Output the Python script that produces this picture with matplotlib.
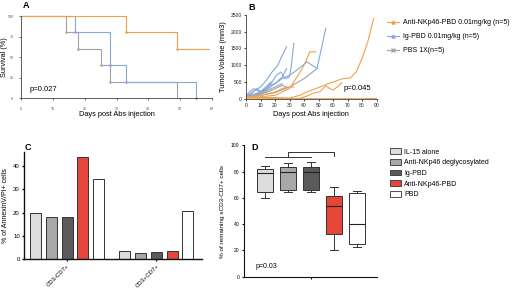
import matplotlib
matplotlib.use('Agg')
from matplotlib import pyplot as plt
from matplotlib.lines import Line2D
from matplotlib.patches import Patch

plt.rcParams['font.family'] = ['Liberation Sans', 'DejaVu Sans']

W, H = 520, 292

# ---- panel A: survival (days, % survival) ----
surv_nkp46_days = [0, 33, 49, 59]
surv_nkp46_pct = [100, 80, 60, 60]
surv_ig_days = [0, 17, 28, 33, 55, 55]
surv_ig_pct = [100, 80, 40, 20, 0, 0]
surv_pbs_days = [0, 14, 18, 25, 28, 49]
surv_pbs_pct = [100, 80, 60, 40, 20, 0]

# ---- panel B: tumor volume per mouse (days, mm3) ----
tum_nkp46 = [
    ([0, 10, 20, 30, 37, 42, 48, 54, 60, 67, 72, 76, 80, 84, 88],
     [50, 40, 30, 20, 100, 200, 300, 400, 500, 600, 620, 800, 1200, 1700, 2400]),
    ([0, 10, 20, 30, 37, 42, 46, 51, 55, 58, 60, 63, 66],
     [30, 20, 10, 0, 10, 80, 160, 210, 380, 300, 260, 350, 480]),
    ([0, 10, 20, 25, 30, 36, 40, 44, 48],
     [50, 60, 100, 200, 310, 700, 1000, 1400, 1400]),
    ([0, 10, 20, 25, 28, 33],
     [50, 100, 200, 300, 340, 350]),
    ([0, 20, 40, 60, 80, 90],
     [20, 10, 0, 0, 0, 10]),
]
tum_ig = [
    ([0, 3, 6, 10, 14, 18, 22, 25, 28],
     [100, 150, 250, 350, 550, 800, 1000, 1300, 1550]),
    ([0, 4, 7, 11, 14, 18, 21, 24, 27, 30, 31, 33],
     [50, 150, 300, 200, 300, 500, 700, 800, 600, 650, 900, 1650]),
    ([0, 5, 10, 15, 20, 25, 30, 35, 42, 49, 55],
     [50, 100, 150, 300, 450, 600, 700, 850, 1100, 900, 2100]),
    ([0, 5, 10, 14, 17],
     [100, 300, 200, 350, 500]),
    ([0, 5, 10, 15, 20, 25, 28],
     [50, 100, 200, 400, 450, 650, 900]),
]
tum_pbs = [
    ([0, 5, 10, 14], [50, 100, 150, 250]),
    ([0, 5, 10, 15, 18], [80, 120, 200, 300, 400]),
    ([0, 5, 10, 15, 20, 25], [50, 80, 150, 250, 350, 450]),
    ([0, 5, 10, 15, 20, 25, 28], [60, 100, 150, 200, 300, 400, 350]),
    ([0, 10, 20, 30, 40, 49], [50, 100, 180, 350, 600, 900]),
]

# ---- panel C: % AnnexinV/PI+ ----
c_groups = ['CD3-CD7+', 'CD3+CD7+']
c_treatments = ['IL-15 alone', 'Anti-NKp46 deglycosylated', 'Ig-PBD', 'Anti-NKp46-PBD', 'PBD']
c_values = [[20, 18, 18, 44, 34.3],
            [3.5, 2.5, 3, 3.7, 20.5]]

# ---- panel D: % remaining sCD3-CD7+ (box stats) ----
d_whislo = [59.6, 64.2, 64.2, 20.0, 22.3]
d_q1 = [64.2, 66.2, 66.2, 32.2, 24.6]
d_med = [78.7, 80.0, 79.7, 53.8, 39.8]
d_q3 = [81.7, 83.8, 83.8, 61.4, 64.0]
d_whishi = [84.5, 86.3, 87.0, 68.3, 65.5]

col_orange = '#f0a04b'
col_blue = '#86a8dd'
col_gray = '#a3a3a3'
treat_colors = ['#dcdcdc', '#a8a8a8', '#5a5a5a', '#e5463a', '#ffffff']

fig = plt.figure(figsize=(W / 100, H / 100), dpi=100)


def ax_px(left, top, right, bottom):
    return fig.add_axes([left / W, 1 - bottom / H, (right - left) / W, (bottom - top) / H])


def style(ax, lw=0.6, color='#444444'):
    for s in ['top', 'right']:
        ax.spines[s].set_visible(False)
    for s in ['left', 'bottom']:
        ax.spines[s].set_linewidth(lw)
        ax.spines[s].set_color(color)
    ax.tick_params(length=1.5, width=lw, color=color, pad=1.5)


# A
axA = ax_px(21, 16, 212, 98.3)
style(axA)
for d, p, c in [(surv_pbs_days, surv_pbs_pct, col_gray),
                (surv_ig_days, surv_ig_pct, col_blue),
                (surv_nkp46_days, surv_nkp46_pct, col_orange)]:
    axA.plot(d, p, drawstyle='steps-post', color=c, lw=0.8, clip_on=False)
    axA.plot(d[1:-1], p[1:-1], ls='none', marker='.', ms=1.8, color=c, clip_on=False)
axA.set_xlim(0, 60)
axA.set_ylim(0, 100)
axA.set_xticks(range(0, 61, 10))
axA.set_yticks([0, 25, 50, 75, 100])
axA.tick_params(labelsize=2.6, colors='#555555')
axA.tick_params(axis='x', pad=5)
axA.tick_params(axis='y', pad=4)
axA.set_xlabel('Days post Abs injection', fontsize=5.3)
axA.set_ylabel('Survival (%)', fontsize=5.3)
axA.xaxis.set_label_coords(0.5, -0.15)
axA.yaxis.set_label_coords(-0.066, 0.5)
axA.text(0.045, 0.11, 'p=0.027', transform=axA.transAxes, fontsize=5.5, va='center')

# B
axB = ax_px(246, 15, 376.5, 98.7)
style(axB)
for group, c in [(tum_pbs, col_gray), (tum_ig, col_blue), (tum_nkp46, col_orange)]:
    for d, v in group:
        axB.plot(d, v, color=c, lw=0.8)
axB.set_xlim(0, 90)
axB.set_ylim(0, 2500)
axB.set_xticks(range(0, 91, 10))
axB.set_yticks(range(0, 2501, 500))
axB.tick_params(labelsize=3.6, colors='#222222')
axB.set_xlabel('Days post Abs injection', fontsize=5.3)
axB.set_ylabel('Tumor Volume (mm3)', fontsize=5.3)
axB.xaxis.set_label_coords(0.5, -0.15)
axB.yaxis.set_label_coords(-0.143, 0.5)
axB.text(0.745, 0.125, 'p=0.045', transform=axB.transAxes, fontsize=5.5, va='center')

legAB = [Line2D([], [], color=col_orange, marker='^', ms=2.2, lw=0.8),
         Line2D([], [], color=col_blue, marker='^', ms=2.2, lw=0.8),
         Line2D([], [], color=col_gray, marker='x', ms=2.2, lw=0.8)]
fig.legend(legAB, ['Anti-NKp46-PBD 0.01mg/kg (n=5)', 'Ig-PBD 0.01mg/kg (n=5)', 'PBS 1X(n=5)'],
           loc='upper left', bbox_to_anchor=(384 / W, 1 - 16 / H), frameon=False,
           fontsize=5, handlelength=1.7, handletextpad=0.6, labelspacing=1.0, borderpad=0)

# C
axC = ax_px(24, 152, 202, 259.3)
style(axC, lw=1.0, color='#111111')
bw = 0.7
gstep = 5.68
for gi, vals in enumerate(c_values):
    xs = [gi * gstep + i for i in range(len(vals))]
    axC.bar(xs, vals, width=bw, color=treat_colors, edgecolor='#333333', linewidth=0.7)
axC.set_xlim(-0.745, 10.59)
axC.set_ylim(0, 46)
axC.set_yticks([0, 10, 20, 30, 40])
axC.set_xticks([gi * gstep + 2 for gi in range(len(c_groups))])
axC.set_xticklabels(c_groups, rotation=45, ha='right', rotation_mode='anchor', fontsize=4.3)
axC.tick_params(axis='y', labelsize=4.3)
axC.set_ylabel('% of AnnexinV/PI+ cells', fontsize=5)
axC.yaxis.set_label_coords(-0.087, 0.5)

# D
axD = ax_px(243.7, 145.3, 377, 276.7)
style(axD, lw=0.8, color='#111111')
pos = list(range(1, len(d_med) + 1))
stats = [dict(whislo=a, q1=b, med=m, q3=c, whishi=e, fliers=[])
         for a, b, m, c, e in zip(d_whislo, d_q1, d_med, d_q3, d_whishi)]
bp = axD.bxp(stats, positions=pos, widths=0.7, capwidths=0.35, patch_artist=True,
             boxprops=dict(linewidth=0.7, edgecolor='#333333'),
             medianprops=dict(color='#222222', linewidth=0.8),
             whiskerprops=dict(color='#333333', linewidth=0.7),
             capprops=dict(color='#333333', linewidth=0.7))
for patch, c in zip(bp['boxes'], treat_colors):
    patch.set_facecolor(c)
axD.set_xlim(0.09, 5.87)
axD.set_ylim(0, 100)
axD.set_yticks(range(0, 101, 20))
axD.set_xticks([3])
axD.set_xticklabels([''])
axD.tick_params(labelsize=3.6)
axD.set_ylabel('% of remaining sCD3-CD7+ cells', fontsize=4.6)
axD.yaxis.set_label_coords(-0.138, 0.5)
# significance bracket: groups 1-3 vs group 4
y_low = max(d_whishi[:3]) + 4.4
y_high = y_low + 3.5
axD.plot([pos[0], pos[2]], [y_low, y_low], color='#333333', lw=0.7)
axD.plot([pos[1], pos[1], pos[3], pos[3]], [y_low, y_high, y_high, y_low + 0.5],
         color='#333333', lw=0.7)
axD.text(0.085, 0.08, 'p=0.03', transform=axD.transAxes, fontsize=5, va='center')

legD = [Patch(facecolor=c, edgecolor='#333333', linewidth=0.6) for c in treat_colors]
fig.legend(legD, c_treatments, loc='upper left', bbox_to_anchor=(387 / W, 1 - 145 / H),
           frameon=False, fontsize=5, handlelength=1.5, handleheight=0.9,
           handletextpad=0.5, labelspacing=0.48, borderpad=0)

# panel letters
for lbl, x, y in [('A', 26, 5), ('B', 252, 7), ('C', 28, 148), ('D', 255, 148)]:
    fig.text(x / W, 1 - y / H, lbl, fontsize=6.5, fontweight='bold', va='center', ha='center')

plt.savefig('out.png', dpi=100)
